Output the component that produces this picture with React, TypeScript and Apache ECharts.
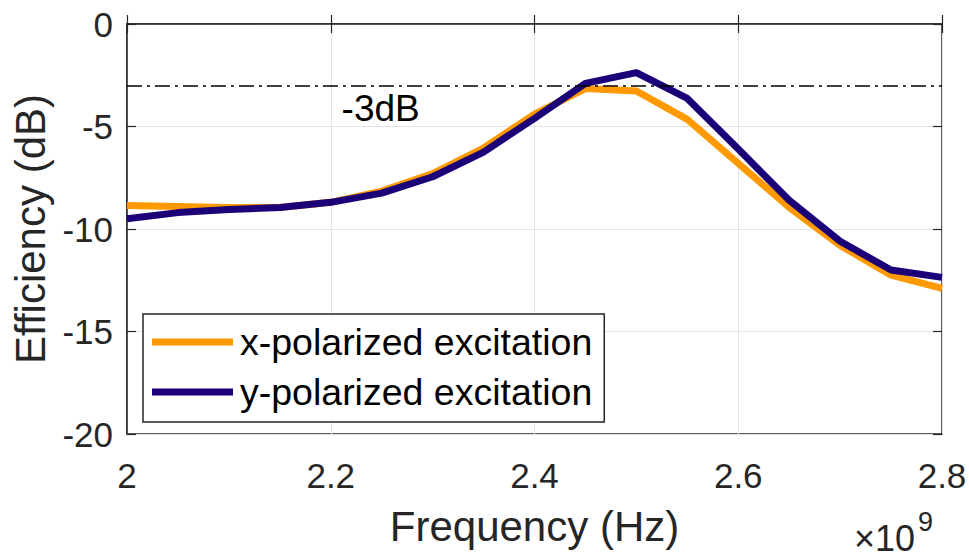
import React, { useEffect, useRef } from "react";
import * as echarts from "echarts";

const freqs = [2.0, 2.05, 2.1, 2.15, 2.2, 2.25, 2.3, 2.35, 2.4, 2.45, 2.5, 2.55, 2.6, 2.65, 2.7, 2.75, 2.8];
const xPolarized = [-8.85, -8.9, -8.95, -8.95, -8.7, -8.15, -7.3, -6.05, -4.4, -3.15, -3.27, -4.65, -6.8, -8.95, -10.8, -12.25, -12.9];
const yPolarized = [-9.5, -9.2, -9.05, -8.95, -8.7, -8.25, -7.45, -6.25, -4.6, -2.9, -2.37, -3.63, -6.1, -8.6, -10.6, -12.0, -12.36];
const seriesNames = ["x-polarized excitation", "y-polarized excitation"];
const threshold = -3;
const thresholdLabel = "-3dB";
const thresholdLabelPos = [2.249, -4.1];

const FONT = "'Liberation Sans', Arial, Helvetica, sans-serif";
const DARK = "#262626";

export default function App() {
  const ref = useRef<HTMLDivElement>(null);
  useEffect(() => {
    document.body.style.margin = "0";
    const chart = echarts.init(ref.current!, null, { renderer: "svg" });
    const toPairs = (vals: number[]) => freqs.map((f, i) => [f, vals[i]]);
    const tickStyle = { show: true, inside: true, length: 9, lineStyle: { color: DARK, width: 1.2 } };
    chart.setOption({
      animation: false,
      backgroundColor: "#ffffff",
      textStyle: { fontFamily: FONT },
      grid: {
        left: 127,
        right: 27,
        top: 24,
        bottom: 124,
        containLabel: false,
        outerBoundsMode: "none",
        show: true,
        borderColor: DARK,
        borderWidth: 1.5,
        backgroundColor: "#ffffff",
      },
      legend: {
        orient: "vertical",
        left: 143,
        top: 314,
        width: 462,
        padding: [8, 12, 10, 9],
        itemGap: 10,
        itemWidth: 81,
        itemHeight: 7,
        icon: "rect",
        borderColor: DARK,
        borderWidth: 1.5,
        backgroundColor: "#ffffff",
        data: seriesNames,
        textStyle: { fontSize: 37.5, color: "#000000", fontFamily: FONT, padding: [0, 0, 0, 2], lineHeight: 40 },
      },
      xAxis: [
        {
          type: "value",
          min: 2,
          max: 2.8,
          interval: 0.2,
          name: "Frequency (Hz)",
          nameLocation: "middle",
          nameGap: 71,
          nameTextStyle: { fontSize: 42, color: DARK, fontFamily: FONT },
          axisLine: { show: true, lineStyle: { color: DARK, width: 1.5 } },
          axisTick: tickStyle,
          axisLabel: {
            fontSize: 35,
            color: DARK,
            margin: 24,
            fontFamily: FONT,
            formatter: (v: number) => String(Math.round(v * 10) / 10),
          },
          splitLine: { show: true, lineStyle: { color: "#e3e3e3", width: 1 } },
        },
        {
          type: "value",
          position: "top",
          min: 2,
          max: 2.8,
          interval: 0.2,
          axisLine: { show: false },
          axisTick: tickStyle,
          axisLabel: { show: false },
          splitLine: { show: false },
        },
      ],
      yAxis: [
        {
          type: "value",
          min: -20,
          max: 0,
          interval: 5,
          name: "Efficiency (dB)",
          nameLocation: "middle",
          nameGap: 74,
          nameTextStyle: { fontSize: 42, color: DARK, fontFamily: FONT },
          axisLine: { show: true, lineStyle: { color: DARK, width: 1.5 } },
          axisTick: tickStyle,
          axisLabel: { fontSize: 35, color: DARK, margin: 14, fontFamily: FONT },
          splitLine: { show: true, lineStyle: { color: "#e3e3e3", width: 1 } },
        },
        {
          type: "value",
          position: "right",
          min: -20,
          max: 0,
          interval: 5,
          axisLine: { show: false },
          axisTick: tickStyle,
          axisLabel: { show: false },
          splitLine: { show: false },
        },
      ],
      series: [
        {
          name: seriesNames[0],
          type: "line",
          data: toPairs(xPolarized),
          symbol: "none",
          lineStyle: { color: "#FF9900", width: 7 },
          itemStyle: { color: "#FF9900" },
          z: 3,
          markLine: {
            silent: true,
            symbol: "none",
            label: { show: false },
            lineStyle: { color: "#000000", width: 1.5, type: [15, 5, 3, 5] },
            data: [{ yAxis: threshold }],
          },
          markPoint: {
            silent: true,
            symbol: "rect",
            symbolSize: 0,
            label: {
              show: true,
              position: "inside",
              formatter: thresholdLabel,
              fontSize: 37,
              color: "#000000",
              fontFamily: FONT,
            },
            data: [{ coord: thresholdLabelPos }],
          },
        },
        {
          name: seriesNames[1],
          type: "line",
          data: toPairs(yPolarized),
          symbol: "none",
          lineStyle: { color: "#1B0078", width: 7 },
          itemStyle: { color: "#1B0078" },
          z: 4,
        },
      ],
      graphic: [
        {
          type: "text",
          left: 854,
          top: 520,
          style: { text: "×10", fontSize: 36, fill: DARK, fontFamily: FONT },
        },
        {
          type: "text",
          left: 918,
          top: 508,
          style: { text: "9", fontSize: 27, fill: DARK, fontFamily: FONT },
        },
      ],
    });
    return () => chart.dispose();
  }, []);
  return <div ref={ref} style={{ width: 969, height: 558 }} />;
}
